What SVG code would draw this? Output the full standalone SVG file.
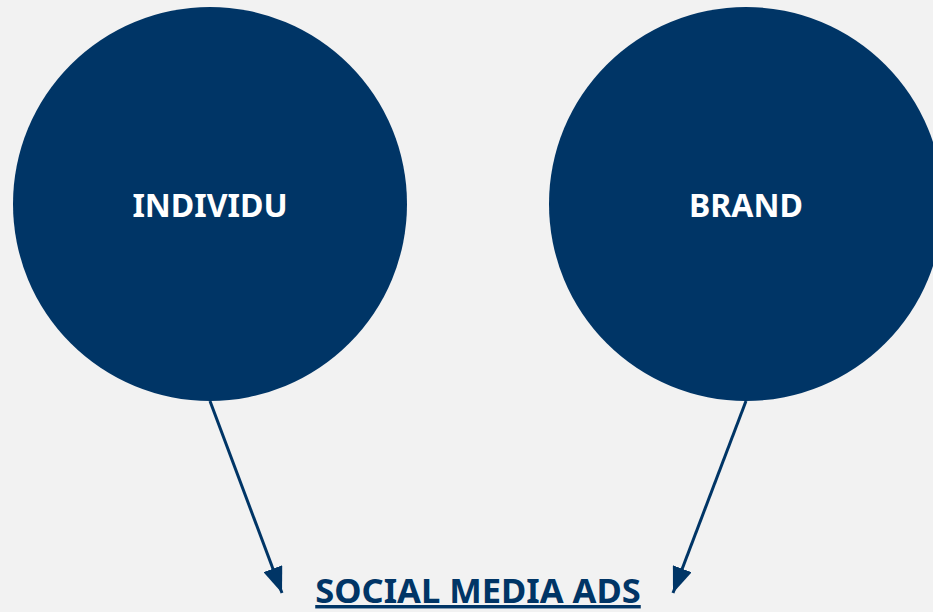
<svg xmlns="http://www.w3.org/2000/svg" width="933" height="612" viewBox="0 0 933 612">
<style>
.node{fill:#003566;}
.lbl{font-family:"Noto Sans","Open Sans",sans-serif;font-weight:bold;font-size:32px;fill:#ffffff;text-anchor:middle;}
.edge{stroke:#003566;stroke-width:3;fill:none;}
.title{font-family:"Noto Sans","Open Sans",sans-serif;font-weight:bold;font-size:34.5px;fill:#003566;text-anchor:middle;text-decoration:underline;}
</style>
<defs>
<marker id="ah" markerUnits="userSpaceOnUse" viewBox="0 0 26 20" refX="26" refY="10" markerWidth="26" markerHeight="20" orient="auto">
<path d="M0,0 L26,10 L0,20 z" fill="#003566"/>
</marker>
</defs>
<rect width="933" height="612" fill="#f2f2f2"/>
<g id="individu">
<circle class="node" cx="210" cy="204" r="197"/>
<text class="lbl" x="210" y="217">INDIVIDU</text>
</g>
<g id="brand">
<circle class="node" cx="746" cy="204" r="197"/>
<text class="lbl" x="746" y="217">BRAND</text>
</g>
<g id="social-media-ads">
<text class="title" x="478" y="603">SOCIAL MEDIA ADS</text>
</g>
<g id="connectors">
<line class="edge" x1="210" y1="401" x2="282" y2="593" marker-end="url(#ah)"/>
<line class="edge" x1="746" y1="401" x2="673" y2="593" marker-end="url(#ah)"/>
</g>
</svg>
